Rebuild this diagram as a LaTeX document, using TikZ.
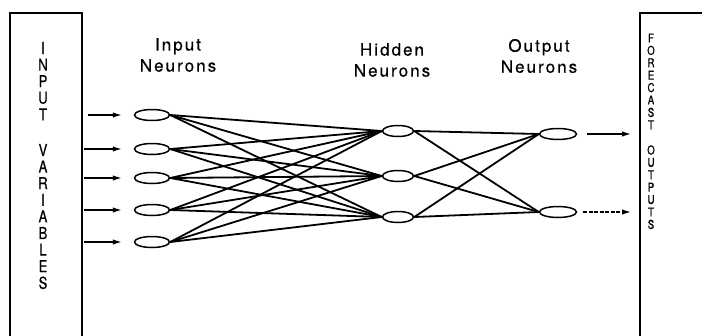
\documentclass[tikz,border=0pt]{standalone}
\usepackage{fontspec}
\setmainfont{TeX Gyre Heros}
\newfontfamily\lblfont[LetterSpace=12,FakeBold=0.4]{TeX Gyre Heros}
\newfontfamily\vfont[FakeStretch=0.8,FakeBold=0.6]{TeX Gyre Heros}
\usetikzlibrary{arrows.meta,shapes.geometric}

\begin{document}
\begin{tikzpicture}[x=1pt,y=-1pt,
  neuron/.style={draw, ellipse, line width=1.5pt, minimum width=#1, minimum height=11pt, inner sep=0pt},
  link/.style={line width=1.8pt},
  feed/.style={line width=1.4pt, -{Latex[length=9pt,width=5.5pt]}},
  frame/.style={line width=2pt},
  label/.style={align=center, font=\lblfont\fontsize{17}{21}\selectfont},
  vletter/.style={font=\vfont\fontsize{#1}{#1}\selectfont, inner sep=0pt}
]
\useasboundingbox (0,0) rectangle (702,335);

% side frames (they run off the page)
\draw[frame] (10,345) -- (10,13) -- (82,13) -- (82,345);
\draw[frame] (712,13) -- (640,13) -- (640,345);

% input variables, one letter per row
\foreach \ch/\yy [count=\k] in {I/48,N/64.6,P/81.2,U/97.8,T/114.4,V/150,A/166.6,R/183.2,I/199.8,A/216.4,B/233,L/249.6,E/266.2,S/282.8}
  \node[vletter=16.4] (iv\k) at (43,\yy) {\ch};

% forecast outputs, one letter per row
\foreach \ch/\yy [count=\k] in {F/38,O/50.4,R/62.8,E/75.2,C/87.6,A/100,S/112.4,T/124.8,O/150,U/162.4,T/174.8,P/187.2,U/199.6,T/212,S/224.4}
  \node[vletter=12.2] (fo\k) at (651,\yy) {\ch};

% column captions
\node[label] (capin)  at (178,55) {Input\\Neurons};
\node[label] (caphid) at (392,60) {Hidden\\Neurons};
\node[label] (capout) at (539,56) {Output\\Neurons};

% neurons
\foreach \yy [count=\k] in {115,149,178,210,242}
  \node[neuron=35pt] (in\k) at (152,\yy) {};
\foreach \yy [count=\k] in {131,176,217}
  \node[neuron=31pt] (hid\k) at (398,\yy) {};
\foreach \yy [count=\k] in {134,212}
  \node[neuron=37pt] (out\k) at (558,\yy) {};

% full connections between the layers
\foreach \i in {1,...,5}
  \foreach \j in {1,2,3}
    \draw[link] (in\i.east) -- (hid\j.west);
\foreach \j in {1,2,3}
  \foreach \o in {1,2}
    \draw[link] (hid\j.east) -- (out\o.west);

% inputs feeding the first layer
\coordinate (s1) at (88,115);
\coordinate (s2) at (84,149);
\coordinate (s3) at (84,178);
\coordinate (s4) at (84,210);
\coordinate (s5) at (84,242);
\foreach \k in {1,...,5}
  \draw[feed] (s\k) -- ([xshift=-12pt]in\k.west);

% outputs feeding the forecast frame
\coordinate (t1) at (631,134);
\coordinate (t2) at (631,212);
\draw[feed] ([xshift=10pt]out1.east) -- (t1);
\draw[feed, dash pattern=on 4pt off 1.5pt] ([xshift=6pt]out2.east) -- (t2);
\end{tikzpicture}
\end{document}
